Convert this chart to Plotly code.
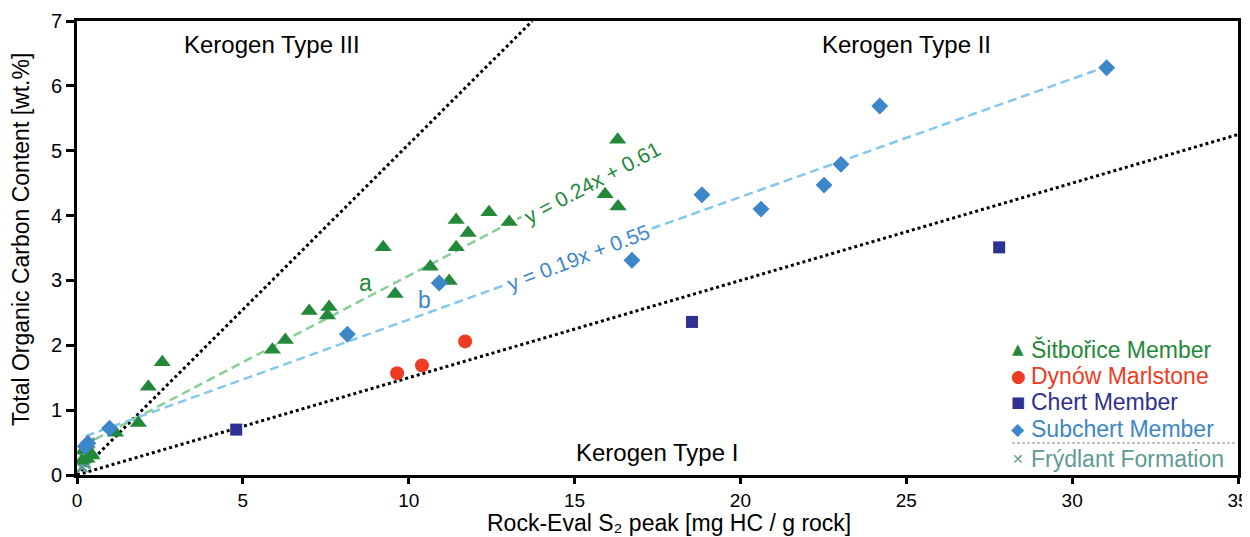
import plotly.graph_objects as go

# --- data ---
sit_x = [16.3, 15.92, 16.31, 12.42, 11.43, 11.79, 13.03, 11.43, 9.23, 10.65, 11.22, 9.59,
         7.0, 7.6, 7.55, 6.28, 5.89, 2.57, 2.15, 1.85, 1.16, 0.41, 0.2, 0.45, 0.15, 0.3]
sit_y = [5.17, 4.33, 4.14, 4.05, 3.93, 3.73, 3.90, 3.51, 3.51, 3.21, 2.99, 2.79,
         2.53, 2.59, 2.46, 2.08, 1.93, 1.74, 1.36, 0.80, 0.65, 0.34, 0.38, 0.30, 0.22, 0.25]

dyn_x = [9.65, 10.4, 11.7]
dyn_y = [1.57, 1.69, 2.06]

chert_x = [4.8, 18.54, 27.8]
chert_y = [0.70, 2.36, 3.51]

sub_x = [31.04, 24.2, 23.03, 22.52, 18.84, 20.62, 16.73, 10.92, 8.15, 0.98, 0.25, 0.33]
sub_y = [6.28, 5.69, 4.79, 4.47, 4.32, 4.10, 3.31, 2.96, 2.17, 0.72, 0.44, 0.49]

fry_x = [0.38, 0.2, 0.15, 0.25]
fry_y = [0.49, 0.27, 0.12, 0.18]

# regression lines as drawn in the picture (end points)
fit_a_x = [0.17, 13.4]
fit_a_y = [0.45, 3.98]
fit_b_x = [0.26, 12.85, 17.33, 31.0]
fit_b_y = [0.60, 2.92, 3.80, 6.29]   # gap between 2nd and 3rd points holds the equation label
fit_a_label = "y = 0.24x + 0.61"
fit_b_label = "y = 0.19x + 0.55"

# kerogen boundary slopes (TOC / S2)
bound_III_II = 0.51
bound_II_I = 0.15

# legend entries
legend_names = ["Šitbořice Member", "Dynów Marlstone", "Chert Member", "Subchert Member", "Frýdlant Formation"]
legend_glyphs = ["▲", "●", "■", "◆", "✕"]

x_ticks = [0, 5, 10, 15, 20, 25, 30, 35]
y_ticks = [0, 1, 2, 3, 4, 5, 6, 7]

GREEN = "#23893a"
RED = "#ee3b24"
NAVY = "#2e3192"
BLUE = "#3d86c9"
TEAL = "#5f9b95"
LGREEN = "#88cf96"
LBLUE = "#82c7ee"
legend_colors = [GREEN, RED, NAVY, BLUE, TEAL]

fig = go.Figure()

# kerogen boundary lines
fig.add_trace(go.Scatter(x=[0, 7 / bound_III_II], y=[0, 7], mode="lines",
                         line=dict(color="black", width=3, dash="dot"), hoverinfo="skip"))
fig.add_trace(go.Scatter(x=[0, 35], y=[0, 35 * bound_II_I], mode="lines",
                         line=dict(color="black", width=3, dash="dot"), hoverinfo="skip"))

# regression lines
fig.add_trace(go.Scatter(x=fit_a_x, y=fit_a_y, mode="lines",
                         line=dict(color=LGREEN, width=2.5, dash="9px,5px"), hoverinfo="skip"))
fig.add_trace(go.Scatter(x=fit_b_x[:2], y=fit_b_y[:2], mode="lines",
                         line=dict(color=LBLUE, width=2.5, dash="9px,5px"), hoverinfo="skip"))
fig.add_trace(go.Scatter(x=fit_b_x[2:], y=fit_b_y[2:], mode="lines",
                         line=dict(color=LBLUE, width=2.5, dash="9px,5px"), hoverinfo="skip"))

# data series
fig.add_trace(go.Scatter(x=fry_x, y=fry_y, mode="markers", name=legend_names[4],
                         marker=dict(symbol="x-thin", size=10, line=dict(color=TEAL, width=3), color=TEAL)))
fig.add_trace(go.Scatter(x=sit_x, y=sit_y, mode="markers", name=legend_names[0],
                         marker=dict(symbol="triangle-up", size=15, color=GREEN)))
fig.add_trace(go.Scatter(x=dyn_x, y=dyn_y, mode="markers", name=legend_names[1],
                         marker=dict(symbol="circle", size=14, color=RED)))
fig.add_trace(go.Scatter(x=chert_x, y=chert_y, mode="markers", name=legend_names[2],
                         marker=dict(symbol="square", size=12, color=NAVY)))
fig.add_trace(go.Scatter(x=sub_x, y=sub_y, mode="markers", name=legend_names[3],
                         marker=dict(symbol="diamond", size=13, color=BLUE)))

FONT = "Liberation Sans, Arial, sans-serif"

annotations = [
    dict(x=5.89, y=6.64, text="Kerogen Type III", font=dict(size=24, color="black")),
    dict(x=25.0, y=6.64, text="Kerogen Type II", font=dict(size=24, color="black")),
    dict(x=17.48, y=0.34, text="Kerogen Type I", font=dict(size=24, color="black")),
    dict(x=15.53, y=4.51, text=fit_a_label, textangle=-28, font=dict(size=21, color=GREEN)),
    dict(x=15.11, y=3.36, text=fit_b_label, textangle=-21, font=dict(size=21, color=BLUE)),
    dict(x=8.69, y=2.96, text="a", font=dict(size=23, color=GREEN)),
    dict(x=10.47, y=2.70, text="b", font=dict(size=23, color=BLUE)),
]
for a in annotations:
    a.update(xref="x", yref="y", showarrow=False)

# the page adds an 8 px body margin, so the figure is shrunk by that much
OFF = 8
W, H = 1250 - OFF, 537 - OFF
# plot-area pixel geometry in window pixels
L, R, T, B = 77, 1238, 21, 475
def px(xp):
    return (xp - L) / (R - L)
def py(yp):
    return (B - yp) / (B - T)

# axis titles
annotations.append(dict(xref="paper", yref="paper", x=px(669), y=py(523), showarrow=False,
                        text="Rock-Eval S₂ peak [mg HC / g rock]",
                        font=dict(size=23, color="black"), xanchor="center", yanchor="middle"))
annotations.append(dict(xref="paper", yref="paper", x=px(21), y=py(240), showarrow=False,
                        text="Total Organic Carbon Content [wt.%]", textangle=-90,
                        font=dict(size=23, color="black"), xanchor="center", yanchor="middle"))

# custom legend
legend_rows = [349, 376, 402, 429, 459]
glyph_sizes = [15, 17, 15, 17, 14]
for name, glyph, col, yrow, gs in zip(legend_names, legend_glyphs, legend_colors, legend_rows, glyph_sizes):
    annotations.append(dict(xref="paper", yref="paper", x=px(1018), y=py(yrow), showarrow=False,
                            text=glyph, xanchor="center", yanchor="middle",
                            font=dict(size=gs, color=col, family="DejaVu Sans")))
    annotations.append(dict(xref="paper", yref="paper", x=px(1029), y=py(yrow), showarrow=False,
                            text=name, xanchor="left", yanchor="middle",
                            font=dict(size=23, color=col, family=FONT)))

fig.update_layout(
    width=W, height=H,
    margin=dict(l=L - OFF, r=1250 - R, t=T - OFF, b=537 - B, autoexpand=False),
    plot_bgcolor="white", paper_bgcolor="white",
    font=dict(family=FONT, size=19, color="black"),
    annotations=annotations,
    showlegend=False,
    shapes=[dict(type="line", xref="paper", yref="paper", x0=px(1012), x1=px(1235), y0=py(443), y1=py(443),
                 line=dict(color="#888888", width=1.2, dash="3px,2px"))],
)
fig.update_xaxes(range=[0, 35], tickvals=x_ticks, tickfont=dict(size=19),
                 showline=True, linecolor="black", linewidth=3, mirror=True,
                 ticks="outside", ticklen=6, tickwidth=3, tickcolor="black",
                 showgrid=False, zeroline=False, automargin=False, ticklabeloverflow="allow")
fig.update_yaxes(range=[0, 7], tickvals=y_ticks, tickfont=dict(size=20),
                 showline=True, linecolor="black", linewidth=3, mirror=True,
                 ticks="outside", ticklen=8, tickwidth=3, tickcolor="black",
                 showgrid=False, zeroline=False, automargin=False, ticklabeloverflow="allow")

fig.write_html("out.html")
